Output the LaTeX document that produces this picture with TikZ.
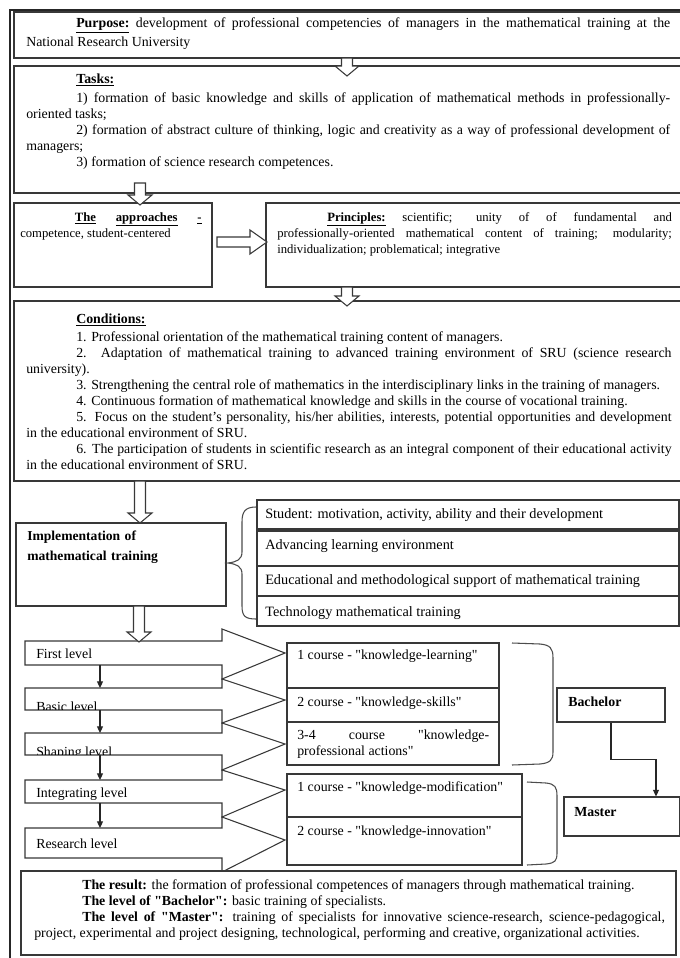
\documentclass[tikz,border=0pt]{standalone}
\usepackage{fontspec}
\setmainfont{Liberation Serif}
\usepackage{graphicx}
\usetikzlibrary{arrows.meta,fit}
\newlength\myw
\newcommand{\myJ}[1]{\settowidth{\myw}{\spaceskip=0pt \xspaceskip=0pt #1}\ifdim\myw>\hsize\resizebox{\hsize}{\height}{\spaceskip=0pt \xspaceskip=0pt #1}\else\makebox[\hsize][s]{\spaceskip=0pt \xspaceskip=0pt #1}\fi}
\newcommand{\myL}[1]{\settowidth{\myw}{\spaceskip=0pt \xspaceskip=0pt #1}\ifdim\myw>\hsize\resizebox{\hsize}{\height}{\spaceskip=0pt \xspaceskip=0pt #1}\else{\spaceskip=0pt \xspaceskip=0pt #1}\fi}
\newcommand{\ind}{\hspace*{37.5pt}}
\newcommand{\qd}{\XeTeXglyph\XeTeXcharglyph"22\relax}
\newcommand{\hdown}[3]{\draw[hol] ({#1-5.5},#2) -- ({#1+5.5},#2) -- ({#1+5.5},{#3-10}) -- ({#1+12},{#3-10}) -- (#1,#3) -- ({#1-12},{#3-10}) -- ({#1-5.5},{#3-10}) -- cycle;}
\begin{document}
\begin{tikzpicture}[x=0.75pt,y=-0.75pt,
 box/.style={draw=black!78, line width=0.8pt, fill=white, inner sep=0pt},
 txt/.style={anchor=base west, inner sep=0pt, align=left, font=\fontsize{10.4}{12}\selectfont},
 sml/.style={font=\fontsize{9.5}{12}\selectfont},
 big/.style={font=\fontsize{10.7}{12}\selectfont},
 hol/.style={draw=black!78, line width=0.8pt, fill=white, line join=miter},
 lvl/.style={draw=black!78, line width=0.8pt, fill=white, line join=miter},
 conn/.style={draw=black!85, line width=0.8pt, -{Triangle[length=5pt,width=4.5pt]}},
 brc/.style={draw=black!70, line width=0.8pt},
]
\useasboundingbox (0,0) rectangle (680,958);
\fill[white] (0,0) rectangle (680,958);
% outer frame
\draw[black!85, line width=1.8pt] (10,958) -- (10,10) -- (682,10);

% Purpose
\node[box, fit={(14,12) (684,58)}] (purpose) {};
\node[txt, text width=483pt] (purposeT) at (26,27) {\myJ{\ind\underline{\textbf{Purpose:}} development of professional competencies of managers in the mathematical training at the}\\[2.5pt]
\myL{National Research University}};

% Tasks
\node[box, fit={(14,66) (684,193)}] (tasks) {};
\node[txt, text width=483pt] (tasksT) at (26,83) {\myL{\ind\underline{\textbf{Tasks:}}}\\[2.25pt]
\myJ{\ind 1) formation of basic knowledge and skills of application of mathematical methods in professionally-}\\
\myL{oriented tasks;}\\
\myJ{\ind 2) formation of abstract culture of thinking, logic and creativity as a way of professional development of}\\
\myL{managers;}\\
\myL{\ind 3) formation of science research competences.}};
\hdown{347}{58}{76}

% Approaches & Principles
\node[box, fit={(14,203) (212,287)}] (appr) {};
\node[txt, sml, text width=136pt] (apprT) at (20,221) {\myJ{\hspace*{41pt}\underline{\textbf{The}} \underline{\textbf{approaches}} \underline{\textbf{-}}}\\
\myL{competence, student-centered}};
\node[box, fit={(266,203) (684,287)}] (princ) {};
\node[txt, sml, text width=296pt] (princT) at (277,221) {\myJ{\ind\underline{\textbf{Principles:}} scientific; unity of of fundamental and}\\
\myJ{professionally-oriented mathematical content of training; modularity;}\\
\myL{individualization; problematical; integrative}};
\hdown{140}{183}{205}
\draw[hol] (217,237) -- (250,237) -- (250,230) -- (267,242) -- (250,254) -- (250,247) -- (217,247) -- cycle;

% Conditions
\node[box, fit={(14,301) (684,481)}] (cond) {};
\node[txt, text width=484pt] (condT) at (26,323) {\myL{\ind\underline{\textbf{Conditions:}}}\\[1.5pt]
\myL{\ind 1. Professional orientation of the mathematical training content of managers.}\\
\myJ{\ind 2. Adaptation of mathematical training to advanced training environment of SRU (science research}\\
\myL{university).}\\
\myL{\ind 3. Strengthening the central role of mathematics in the interdisciplinary links in the training of managers.}\\
\myL{\ind 4. Continuous formation of mathematical knowledge and skills in the course of vocational training.}\\
\myJ{\ind 5. Focus on the student’s personality, his/her abilities, interests, potential opportunities and development}\\
\myL{in the educational environment of SRU.}\\
\myJ{\ind 6. The participation of students in scientific research as an integral component of their educational activity}\\
\myL{in the educational environment of SRU.}};
\hdown{347}{287}{306}

% Implementation
\node[box, fit={(16,523) (226,606)}] (impl) {};
\node[txt, text width=150pt, font=\fontsize{10.2}{12}\selectfont] (implT) at (27,540) {\textbf{Implementation of}\\[3pt]\textbf{mathematical training}};
\hdown{140}{481}{523}
\node[box, fit={(257,500) (679,529)}] (stud) {};
\node[box, fit={(257,531) (679,566)}] (adv) {};
\node[box, fit={(257,566) (679,596)}] (edu) {};
\node[box, fit={(257,596) (679,626)}] (tech) {};
\node[txt, big] (studT) at (265,518) {Student: motivation, activity, ability and their development};
\node[txt, big] (advT) at (265,549) {Advancing learning environment};
\node[txt, big] (eduT) at (265,584) {Educational and methodological support of mathematical training};
\node[txt, big] (techT) at (265,616) {Technology mathematical training};
\draw[brc] (256,507) .. controls (245,507) and (242,512) .. (242,522) -- (242,552) .. controls (242,560) and (236,562) .. (228,563)
  .. controls (236,564) and (242,566) .. (242,574) -- (242,606) .. controls (242,616) and (245,619) .. (256,619);

% Levels
\draw[lvl] (25,641) -- (222,641) -- (222,629) -- (285,653) -- (222,679) -- (222,665) -- (25,665) -- cycle;
\draw[lvl] (25,688) -- (222,688) -- (222,679) -- (285,700) -- (222,723) -- (222,710) -- (25,710) -- cycle;
\draw[lvl] (25,733) -- (222,733) -- (222,723) -- (285,744) -- (222,770) -- (222,755) -- (25,755) -- cycle;
\draw[lvl] (25,780) -- (222,780) -- (222,770) -- (285,790) -- (222,817) -- (222,803) -- (25,803) -- cycle;
\draw[lvl] (25,828) -- (222,828) -- (222,817) -- (285,840) -- (222,872) -- (222,858) -- (25,858) -- cycle;
\node[txt] (l1T) at (36,658) {First level};
\begin{scope}
\clip (25,688) rectangle (222,709.5);
\node[txt] (l2T) at (36,711) {Basic level};
\end{scope}
\begin{scope}
\clip (25,733) rectangle (222,754.5);
\node[txt] (l3T) at (36,756) {Shaping level};
\end{scope}
\node[txt] (l4T) at (36,797) {Integrating level};
\node[txt] (l5T) at (36,848) {Research level};
\coordinate (a1s) at (100,665); \coordinate (a2n) at (100,688);
\coordinate (a2s) at (100,710); \coordinate (a3n) at (100,733);
\coordinate (a3s) at (100,755); \coordinate (a4n) at (100,780);
\coordinate (a4s) at (100,803); \coordinate (a5n) at (100,828);
\draw[conn] (a1s) -- (a2n);
\draw[conn] (a2s) -- (a3n);
\draw[conn] (a3s) -- (a4n);
\draw[conn] (a4s) -- (a5n);
\hdown{139}{606}{642}

% Courses
\node[box, fit={(287,643) (499,688)}] (c1) {};
\node[box, fit={(287,688) (499,722)}] (c2) {};
\node[box, fit={(287,722) (499,765)}] (c3) {};
\node[box, fit={(287,774) (522,817)}] (m1) {};
\node[box, fit={(287,817) (522,865)}] (m2) {};
\begin{scope}[every node/.append style={font=\fontsize{10.5}{12}\selectfont}]
\node[txt] (c1T) at (297,659) {1 course - \qd{}knowledge-learning\qd{}};
\node[txt] (c2T) at (297,706) {2 course - \qd{}knowledge-skills\qd{}};
\node[txt, text width=144pt] (c3T) at (297,739) {\myJ{3-4 course \qd{}knowledge-}\\\myL{professional actions\qd{}}};
\node[txt] (m1T) at (297,791) {1 course - \qd{}knowledge-modification\qd{}};
\node[txt] (m2T) at (297,835) {2 course - \qd{}knowledge-innovation\qd{}};
\end{scope}
\draw[brc] (512,643) -- (540,644) .. controls (550,645) and (553,648) .. (553,658) -- (553,752) .. controls (553,760) and (550,763) .. (540,764) -- (512,765);
\draw[brc] (527,782) -- (546,783) .. controls (555,784) and (557,787) .. (557,796) -- (557,853) .. controls (557,861) and (555,863) .. (546,864) -- (527,865);

\node[box, fit={(557,688) (665,722)}] (bach) {};
\node[txt] (bachT) at (568,706) {\textbf{Bachelor}};
\node[box, fit={(564,797) (680,836)}] (mast) {};
\node[txt] (mastT) at (574,816) {\textbf{Master}};
\draw[conn] (bach.south) -- ++(0,37) -| ([xshift=25.5pt]mast.north);

% Result
\node[box, fit={(21,871) (676,955)}] (res) {};
\node[txt, text width=473pt] (resT) at (34,889) {\myL{\hspace*{36pt}\textbf{The result:} the formation of professional competences of managers through mathematical training.}\\
\myL{\hspace*{36pt}\textbf{The level of \qd{}Bachelor\qd{}:} basic training of specialists.}\\
\myJ{\hspace*{36pt}\textbf{The level of \qd{}Master\qd{}:} training of specialists for innovative science-research, science-pedagogical,}\\
\myL{project, experimental and project designing, technological, performing and creative, organizational activities.}};
\end{tikzpicture}
\end{document}
